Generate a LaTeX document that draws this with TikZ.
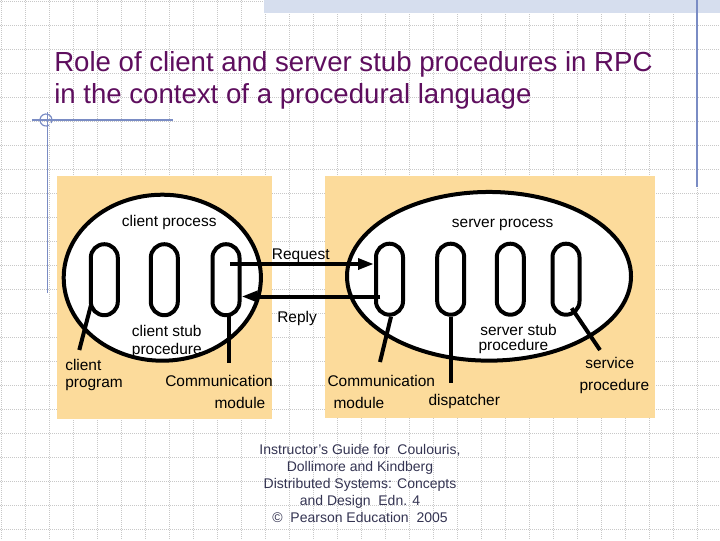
\documentclass[tikz,border=0pt]{standalone}
\usepackage{fontspec}
\setmainfont{Liberation Sans}
\usetikzlibrary{shapes.geometric,arrows.meta,calc}
\definecolor{panel}{RGB}{252,219,155}
\definecolor{titlec}{RGB}{94,14,94}
\definecolor{deco}{RGB}{122,140,196}
\definecolor{band}{RGB}{214,222,238}
\definecolor{gridc}{RGB}{200,200,200}
\definecolor{footc}{RGB}{52,52,82}
\tikzset{
  gridline/.style={draw=gridc, line width=0.6pt, dash pattern=on 0.75pt off 0.75pt},
  decoline/.style={draw=deco, line width=0.9pt},
  proc/.style={ellipse, draw, fill=white, line width=3pt, inner sep=0pt},
  pill/.style={draw, fill=white, line width=3pt, rounded corners=10.1pt, minimum width=20.25pt, minimum height=53.25pt, inner sep=0pt},
  msg/.style={line width=3pt, -{Triangle[length=12pt,width=8pt]}},
  lead/.style={line width=3pt},
  lbl/.style={font=\fontsize{11.6pt}{13.9pt}\selectfont, inner sep=0pt, anchor=base west},
  ttl/.style={font=\fontsize{20.7pt}{23.6pt}\selectfont, text=titlec, inner sep=0pt, anchor=base west},
  foot/.style={font=\fontsize{10.5pt}{12.75pt}\selectfont, text=footc, inner sep=0pt, anchor=base}
}
\begin{document}
\begin{tikzpicture}[x=0.75pt,y=-0.75pt]
\useasboundingbox (0,0) rectangle (720,540);
\fill[white] (0,0) rectangle (720,540);
% background grid
\foreach \i in {0,...,29} \draw[gridline] (1.5+24*\i,0) -- (1.5+24*\i,540);
\foreach \j in {0,...,22} \draw[gridline] (0,1+24*\j) -- (720,1+24*\j);
% top band and decorations
\fill[band] (264,0) rectangle (720,13);
\draw[decoline] (697,0) -- (697,187);
\draw[decoline] (32,120) -- (173,120);
\draw[decoline] (47.5,112) -- (47.5,293);
\draw[decoline] (46,120) ++(60:6) arc[start angle=60, end angle=390, radius=6];
% title
\node[ttl] (t1) at (54,71.7) {Role of client and server stub procedures in RPC};
\node[ttl] (t2) at (54,103) {in the context of a procedural language};
% panels
\fill[panel] (57.3,176) rectangle (271.7,419);
\fill[panel] (325,176) rectangle (655,418);
% processes
\node[proc, minimum width=147.9pt, minimum height=124.5pt] (EL) at (162.3,277.7) {};
\node[proc, minimum width=213pt, minimum height=126.5pt] (ER) at (489,276.3) {};
% pills
\node[pill] (L1) at (104.3,279.7) {};
\node[pill] (L2) at (164.3,279.7) {};
\node[pill] (L3) at (226,279.7) {};
\node[pill] (R1) at (389.5,279.2) {};
\node[pill] (R2) at (450.7,279.2) {};
\node[pill] (R3) at (510.3,279.2) {};
\node[pill] (R4) at (566,279.2) {};
% messages
\draw[msg] ($(L3.center)+(4,-15.7)$) -- ($(R1.west)+(0,-15.2)$);
\draw[msg] ($(R1.center)+(-9.5,17.3)$) -- ($(L3.east)+(0,16.8)$);
% leader lines
\coordinate (cpE) at (79.3,350);
\coordinate (cmLE) at (229.3,363);
\coordinate (cmRE) at (380,362);
\coordinate (dE) at (450.7,383.3);
\coordinate (spE) at (600,350);
\draw[lead] ($(L1.center)+(-13.5,26)$) -- (cpE);
\draw[lead] ($(L3.south)+(3.3,-1)$) -- (cmLE);
\draw[lead] ($(R1.south)+(1.5,0)$) -- (cmRE);
\draw[lead] (R2.south) -- (dE);
\draw[lead] ($(R4.center)+(5.7,29)$) -- (spE);
% labels
\node[lbl] (cproc) at (121.7,226.5) {client process};
\node[lbl] (sproc) at (451.7,227) {server process};
\node[lbl] (req) at (271.7,259.5) {Request};
\node[lbl] (rep) at (277,322.5) {Reply};
\node[lbl] (cs1) at (131.7,336.3) {client stub};
\node[lbl] (cs2) at (131.7,354.3) {procedure};
\node[lbl] (cp1) at (65,370.3) {client};
\node[lbl] (cp2) at (65,387) {program};
\node[lbl] (cmL1) at (165,386) {Communication};
\node[lbl] (cmL2) at (214.3,408.7) {module};
\node[lbl] (cmR1) at (327.3,386) {Communication};
\node[lbl] (cmR2) at (333.3,408.7) {module};
\node[lbl] (disp) at (428.3,405.3) {dispatcher};
\node[lbl] (ss1) at (480,335.5) {server stub};
\node[lbl] (ss2) at (478.3,350) {procedure};
\node[lbl] (sv1) at (585,368.7) {service};
\node[lbl] (sv2) at (579.3,390.3) {procedure};
% footer
\node[foot] (f1) at (360,454) {Instructor’s Guide for \ Coulouris,};
\node[foot] (f2) at (360,471) {Dollimore and Kindberg};
\node[foot] (f3) at (360,488) {Distributed Systems: Concepts};
\node[foot] (f4) at (360,505) {and Design \ Edn. 4};
\node[foot] (f5) at (360,522) {© \ Pearson Education \ 2005};
\end{tikzpicture}
\end{document}
